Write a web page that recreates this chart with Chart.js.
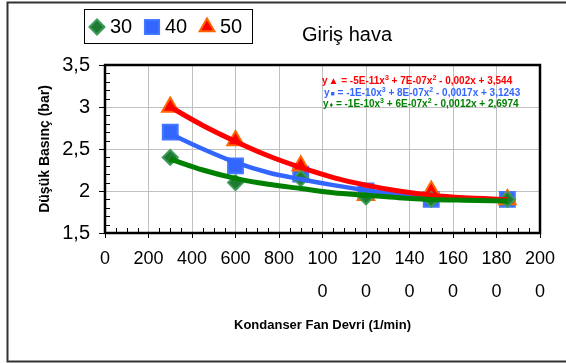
<!DOCTYPE html>
<html>
<head>
<meta charset="utf-8">
<script src="https://cdn.jsdelivr.net/npm/chart.js@4.4.1/dist/chart.umd.min.js"></script>
<style>
  body { margin: 0; background: #fff; }
  canvas { display: block; }
</style>
</head>
<body>
<canvas id="chart" width="566" height="363"></canvas>
<script>
// ölçüm noktaları
const fanSpeed = [300, 600, 900, 1200, 1500, 1850];
const series30 = [2.4, 2.1, 2.15, 1.93, 1.9, 1.9];
const series40 = [2.7, 2.3, 2.2, 2.0, 1.9, 1.9];
const series50 = [3.0, 2.6, 2.3, 1.95, 2.0, 1.9];
const seriesLabels = ['30', '40', '50'];

// trend eğrileri
const trendX = [300, 450, 600, 750, 900, 1050, 1200, 1350, 1500, 1650, 1850];
const trend30 = [2.38, 2.25, 2.15, 2.08, 2.03, 1.98, 1.95, 1.92, 1.90, 1.89, 1.88];
const trend40 = [2.68, 2.50, 2.34, 2.22, 2.14, 2.07, 2.01, 1.96, 1.93, 1.91, 1.89];
const trend50 = [3.00, 2.78, 2.59, 2.42, 2.28, 2.16, 2.07, 2.00, 1.95, 1.92, 1.90];

// denklemler: [işaret, terimler...]
const equations = [
  { color: '#ff0000', mark: '\u25B2', parts: ['-5E-11x', '3', ' + 7E-07x', '2', ' - 0,002x + 3,544'] },
  { color: '#3366ff', mark: '\u25A0', parts: ['-1E-10x', '3', ' + 8E-07x', '2', ' - 0,0017x + 3,1243'] },
  { color: '#008000', mark: '\u2666', parts: ['-1E-10x', '3', ' + 6E-07x', '2', ' - 0,0012x + 2,6974'] }
];

const FONT = 'Arial, "Liberation Sans", sans-serif';

const toPoints = (xs, ys) => xs.map((x, i) => ({ x: x, y: ys[i] }));

const markerStyle = {
  '30': { pointStyle: 'rectRot', radius: 7.5, bg: '#1f7a32', border: '#3d9b57' },
  '40': { pointStyle: 'rect', radius: 10.5, bg: '#3366ff', border: '#4477ff' },
  '50': { pointStyle: 'triangle', radius: 9.5, bg: '#ff0000', border: '#ff6600' }
};

function markerDataset(label, values, order) {
  const st = markerStyle[label];
  return {
    label: label,
    data: toPoints(fanSpeed, values),
    showLine: false,
    pointStyle: st.pointStyle,
    pointRadius: st.radius,
    pointBackgroundColor: st.bg,
    pointBorderColor: st.border,
    pointBorderWidth: 2,
    order: order
  };
}

function trendDataset(values, color, width, order) {
  return {
    label: 'trend',
    data: toPoints(trendX, values),
    showLine: true,
    borderColor: color,
    borderWidth: width,
    pointRadius: 0,
    cubicInterpolationMode: 'monotone',
    fill: false,
    order: order
  };
}

// çerçeve, lejant, başlık ve denklemler
const decorPlugin = {
  id: 'decor',
  beforeDraw(chart) {
    const ctx = chart.ctx;
    ctx.save();
    ctx.fillStyle = '#fff';
    ctx.fillRect(0, 0, chart.width, chart.height);
    ctx.restore();
  },
  afterDatasetsDraw(chart) {
    const ctx = chart.ctx;
    const a = chart.chartArea;
    const xs = chart.scales.x, ys = chart.scales.y;
    ctx.save();

    // ara çentikler (içe doğru)
    ctx.strokeStyle = '#000';
    ctx.lineWidth = 1;
    ctx.beginPath();
    for (let v = 50; v < 2000; v += 50) {
      if (v % 200 === 0) continue;
      const px = Math.round(xs.getPixelForValue(v)) + 0.5;
      ctx.moveTo(px, a.bottom);
      ctx.lineTo(px, a.bottom - 5);
    }
    for (let k = 16; k < 35; k++) {
      if (k % 5 === 0) continue;
      const py = Math.round(ys.getPixelForValue(k / 10)) + 0.5;
      ctx.moveTo(a.left, py);
      ctx.lineTo(a.left + 5, py);
    }
    ctx.stroke();

    // çizim alanı kenarlığı
    ctx.lineWidth = 2.5;
    ctx.strokeRect(a.left, a.top, a.right - a.left, a.bottom - a.top);

    // denklemler
    const baseY = [84, 95.5, 106.5];
    const startX = [322, 324, 323];
    equations.forEach((eq, i) => {
      let x = startX[i];
      const y = baseY[i];
      ctx.fillStyle = eq.color;
      ctx.textBaseline = 'alphabetic';
      ctx.textAlign = 'left';
      ctx.font = 'bold 10px ' + FONT;
      const head = 'y';
      ctx.fillText(head, x, y);
      x += ctx.measureText(head).width + 1;
      ctx.font = 'bold ' + (i === 0 ? 10 : 7) + 'px ' + FONT;
      ctx.fillText(eq.mark, x, y);
      x += ctx.measureText(eq.mark).width;
      ctx.font = 'bold 10px ' + FONT;
      ctx.fillText(' = ', x, y);
      x += ctx.measureText(' = ').width;
      eq.parts.forEach((p, j) => {
        if (j % 2 === 1) {
          ctx.font = 'bold 7px ' + FONT;
          ctx.fillText(p, x, y - 4);
        } else {
          ctx.font = 'bold 10px ' + FONT;
          ctx.fillText(p, x, y);
        }
        x += ctx.measureText(p).width;
      });
    });
    ctx.restore();
  },
  afterDraw(chart) {
    const ctx = chart.ctx;
    ctx.save();

    // dış çerçeve
    ctx.strokeStyle = '#333';
    ctx.lineWidth = 2;
    ctx.strokeRect(7.5, 2.5, 600, 359);

    // lejant
    ctx.strokeStyle = '#000';
    ctx.lineWidth = 1;
    ctx.strokeRect(84.5, 9.5, 168, 34);
    const itemX = [97, 152, 207];
    seriesLabels.forEach((lab, i) => {
      const st = markerStyle[lab];
      ctx.fillStyle = st.bg;
      ctx.strokeStyle = st.border;
      ctx.lineWidth = 2;
      const r = lab === '40' ? 10 : (lab === '30' ? 7.5 : 8.5);
      Chart.helpers.drawPoint(ctx, { pointStyle: st.pointStyle, radius: r, rotation: 0, borderWidth: 2 }, itemX[i], 27);
      ctx.fillStyle = '#000';
      ctx.font = '20px ' + FONT;
      ctx.textBaseline = 'middle';
      ctx.textAlign = 'left';
      ctx.fillText(lab, itemX[i] + 13, 27);
    });

    // başlık
    ctx.fillStyle = '#000';
    ctx.font = '20px ' + FONT;
    ctx.textAlign = 'left';
    ctx.textBaseline = 'middle';
    ctx.fillText('Giriş hava', 302, 35);
    ctx.restore();
  }
};

const ctx = document.getElementById('chart').getContext('2d');

new Chart(ctx, {
  type: 'scatter',
  data: {
    datasets: [
      markerDataset('30', series30, 4),
      markerDataset('40', series40, 5),
      markerDataset('50', series50, 4.5),
      trendDataset(trend40, '#3366ff', 4.5, 3),
      trendDataset(trend50, '#ff0000', 5, 2),
      trendDataset(trend30, '#008000', 5, 1)
    ]
  },
  options: {
    responsive: false,
    animation: false,
    devicePixelRatio: 1,
    layout: { padding: { left: 0, top: 65, right: 26, bottom: 0 } },
    plugins: {
      legend: { display: false },
      tooltip: { enabled: false },
      title: { display: false }
    },
    scales: {
      x: {
        type: 'linear',
        min: 0,
        max: 2000,
        afterFit(scale) { scale.height = 130; },
        ticks: {
          stepSize: 200,
          color: '#000',
          padding: 4,
          maxRotation: 0,
          autoSkip: false,
          font: { family: FONT, size: 18, lineHeight: 1.86 },
          callback(v) {
            const s = String(v);
            return s.length > 3 ? [s.slice(0, 3), s.slice(3)] : s;
          }
        },
        grid: {
          color: '#c0c0c0',
          borderDash: [5, 4],
          tickColor: '#000',
          tickBorderDash: [10, 0],
          tickLength: 5,
          lineWidth: 1
        },
        border: { display: true, color: '#000', width: 2 },
        title: {
          display: true,
          text: 'Kondanser Fan Devri (1/min)',
          color: '#000',
          font: { family: FONT, size: 13, weight: 'bold' },
          padding: { top: 0, bottom: 30 }
        }
      },
      y: {
        min: 1.5,
        max: 3.5,
        afterFit(scale) { scale.width = 105; },
        ticks: {
          stepSize: 0.5,
          color: '#000',
          padding: 9,
          font: { family: FONT, size: 20 },
          callback(v) { return String(v).replace('.', ','); }
        },
        grid: {
          color: '#c0c0c0',
          borderDash: [5, 4],
          tickColor: '#000',
          tickBorderDash: [10, 0],
          tickLength: 6,
          lineWidth: 1
        },
        border: { display: true, color: '#000', width: 2 },
        title: {
          display: true,
          text: 'Düşük Basınç (bar)',
          color: '#000',
          font: { family: FONT, size: 14, weight: 'bold' },
          padding: { top: 37, bottom: 0 }
        }
      }
    }
  },
  plugins: [decorPlugin]
});
</script>
</body>
</html>
